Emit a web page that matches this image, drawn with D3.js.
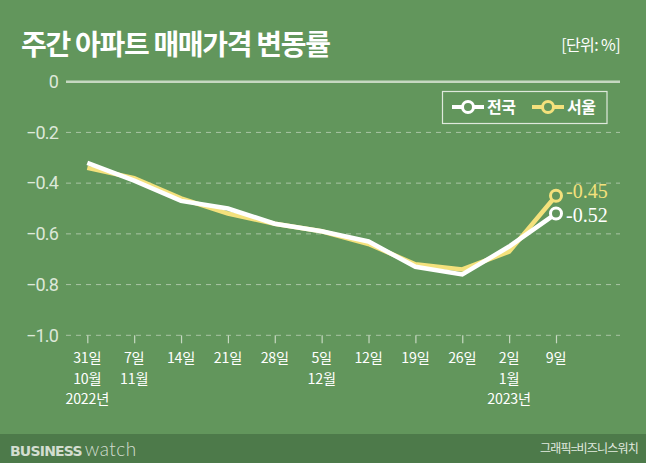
<!DOCTYPE html>
<html><head><meta charset="utf-8">
<script src="https://cdn.jsdelivr.net/npm/d3@7/dist/d3.min.js"></script>
<style>
html,body{margin:0;padding:0;background:#62965c;}
svg{display:block;}
</style></head>
<body>
<svg id="chart" width="646" height="463"></svg>
<script>
const title = "주간 아파트 매매가격 변동률";
const unitLabel = "[단위: %]";
const days = ["31일","7일","14일","21일","28일","5일","12일","19일","26일","2일","9일"];
const months = ["10월","11월","","","","12월","","","","1월",""];
const years = ["2022년","","","","","","","","","2023년",""];
const national = [-0.32,-0.39,-0.47,-0.50,-0.56,-0.59,-0.63,-0.73,-0.76,-0.65,-0.52];
const seoul = [-0.34,-0.38,-0.46,-0.52,-0.56,-0.59,-0.64,-0.72,-0.74,-0.67,-0.45];
const seriesNames = ["전국","서울"];
const yTicks = [0,-0.2,-0.4,-0.6,-0.8,-1.0];
const yTickLabels = ["0","−0.2","−0.4","−0.6","−0.8","−1.0"];

const W = 646, H = 463;
const bg = "#62965c", footerBg = "#4d7a4a";
const white = "#ffffff", yellow = "#f4e17c";
const kr = "'Noto Sans CJK KR','Noto Sans',sans-serif";

const svg = d3.select("#chart");
svg.append("rect").attr("width",W).attr("height",H).attr("fill",bg);
svg.append("rect").attr("x",0).attr("y",434).attr("width",W).attr("height",H-434).attr("fill",footerBg);

// title
svg.append("text").attr("x",21).attr("y",55).text(title)
  .attr("font-family",kr).attr("font-weight",700).attr("font-size",28)
  .attr("letter-spacing",-1.3).attr("fill","#fff");
svg.append("text").attr("x",620).attr("y",51).attr("text-anchor","end").text(unitLabel)
  .attr("font-family",kr).attr("font-size",16).attr("letter-spacing",-0.6).attr("fill","#fff");

const x = d3.scalePoint().domain(days.map((d,i)=>i)).range([87.3,556]);
const y = d3.scaleLinear().domain([-1,0]).range([335.3,81.7]);
const gridX0 = 66, gridX1 = 620;

// y grid + labels
const yAxis = d3.axisLeft(y).tickValues(yTicks).tickSize(0).tickPadding(0)
  .tickFormat((d,i)=>yTickLabels[i]);
const yg = svg.append("g").attr("transform",`translate(${gridX0-8},0)`).call(yAxis);
yg.select(".domain").remove();
yg.selectAll("text").attr("font-family","'Roboto','Liberation Sans',sans-serif")
  .attr("font-size",18).attr("fill","#dde8d9").attr("letter-spacing",-0.8);

svg.append("g").selectAll("line").data(yTicks).join("line")
  .attr("x1",gridX0).attr("x2",gridX1)
  .attr("y1",d=>y(d)).attr("y2",d=>y(d))
  .attr("stroke",d=>d===0?"#c6d8c1":"#a9c4a4")
  .attr("stroke-width",d=>d===0?2.5:1)
  .attr("stroke-dasharray",d=>d===0?null:"5,5");

// x axis ticks and labels
const xAxis = d3.axisBottom(x).tickSize(8).tickFormat("");
const xg = svg.append("g").attr("transform",`translate(0,${y(-1)})`).call(xAxis);
xg.select(".domain").remove();
xg.selectAll(".tick line").attr("stroke","#c6d8c1").attr("stroke-width",1.2);

const lab = svg.append("g").attr("font-family",kr).attr("font-size",14.2)
  .attr("fill","#fff").attr("text-anchor","middle").attr("letter-spacing",-0.2);
[days, months, years].forEach((arr, r)=>{
  lab.selectAll(null).data(arr).join("text")
    .attr("x",(d,i)=>x(i)).attr("y",363 + r*20.7).text(d=>d);
});

// lines
const line = d3.line().x((d,i)=>x(i)).y(d=>y(d));
svg.append("path").datum(seoul).attr("d",line).attr("fill","none")
  .attr("stroke",yellow).attr("stroke-width",4.5).attr("stroke-linejoin","miter");
svg.append("path").datum(national).attr("d",line).attr("fill","none")
  .attr("stroke",white).attr("stroke-width",4.5).attr("stroke-linejoin","miter");

// end markers & labels
const last = days.length-1;
[[seoul,yellow,2.5],[national,white,8.5]].forEach(([s,c,dy])=>{
  svg.append("circle").attr("cx",x(last)).attr("cy",y(s[last])).attr("r",5.5)
    .attr("fill",bg).attr("stroke",c).attr("stroke-width",3);
  svg.append("text").attr("x",x(last)+10).attr("y",y(s[last])+dy)
    .text("-" + Math.abs(s[last]).toFixed(2))
    .attr("font-family","'Liberation Serif','DejaVu Serif',serif")
    .attr("font-size",20).attr("fill",c);
});

// legend
const lg = svg.append("g");
lg.append("rect").attr("x",442.5).attr("y",91.5).attr("width",164.5).attr("height",32)
  .attr("fill","none").attr("stroke","#dfe9dc").attr("stroke-width",1.2);
[[white,452,seriesNames[0]],[yellow,532,seriesNames[1]]].forEach(([c,lx,name])=>{
  lg.append("line").attr("x1",lx).attr("x2",lx+32).attr("y1",107).attr("y2",107)
    .attr("stroke",c).attr("stroke-width",4);
  lg.append("circle").attr("cx",lx+16).attr("cy",107).attr("r",5.5)
    .attr("fill",bg).attr("stroke",c).attr("stroke-width",3);
  lg.append("text").attr("x",lx+35).attr("y",113).text(name)
    .attr("font-family",kr).attr("font-weight",700).attr("font-size",16)
    .attr("letter-spacing",-0.5).attr("fill","#fff");
});

// footer
const ft = svg.append("text").attr("x",10).attr("y",456).attr("fill","#d3ddd0");
ft.append("tspan").text("BUSINESS").attr("font-family","'DejaVu Sans',sans-serif")
  .attr("font-weight",700).attr("font-size",14).attr("letter-spacing",-0.8);
ft.append("tspan").text("watch").attr("dx",3).attr("font-family","'Lato','DejaVu Sans',sans-serif")
  .attr("font-weight",300).attr("font-size",19).attr("letter-spacing",0.5);
svg.append("text").attr("x",638).attr("y",453).attr("text-anchor","end").text("그래픽=비즈니스워치")
  .attr("font-family",kr).attr("font-size",12).attr("letter-spacing",-0.8).attr("fill","#e3ebe0");
</script>
</body></html>
